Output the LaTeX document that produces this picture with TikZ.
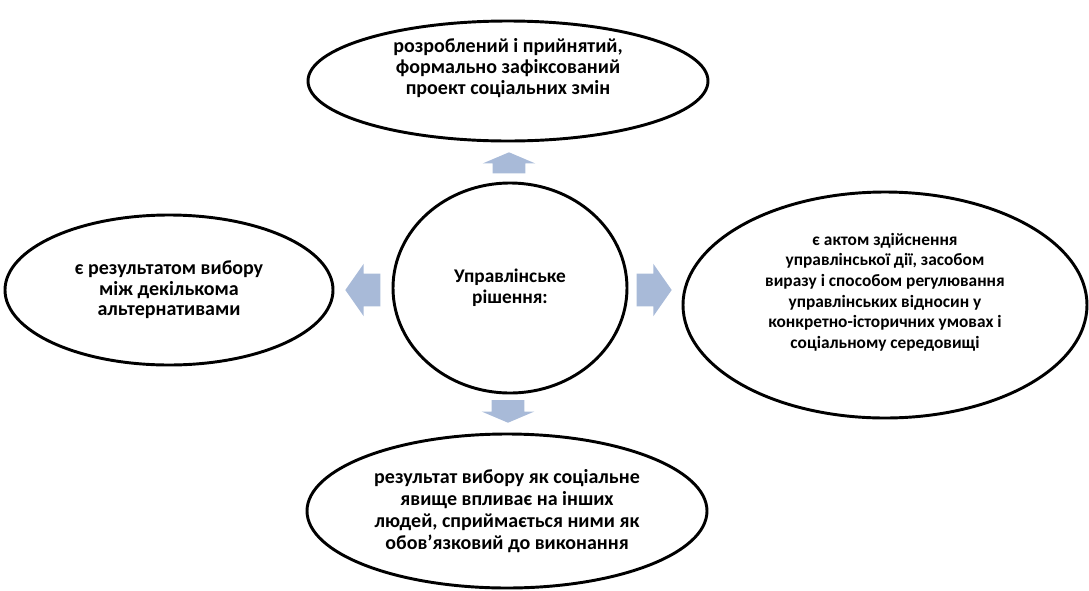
\documentclass[tikz,border=0pt]{standalone}
\usepackage{fontspec}
\setmainfont{Carlito}
\usepackage{tikz}
\usetikzlibrary{shapes.geometric}
\usetikzlibrary{shapes.arrows}
\definecolor{arrowblue}{RGB}{168,186,216}

\tikzset{
  bubble/.style={draw=black, line width=2.2pt, ellipse, inner sep=0pt},
  caption/.style={align=center, font=\bfseries\fontsize{#1}{15.5}\selectfont},
  caption/.default=14,
  blockarrow/.style={single arrow, fill=arrowblue, draw=none, inner xsep=0pt,
                     inner ysep=12pt, single arrow head extend=7.5pt, anchor=tip}
}

\begin{document}
\begin{tikzpicture}[x=0.75pt, y=-0.75pt]
  \useasboundingbox (0,0) rectangle (1089,590);

  \node[bubble, caption=14.5, minimum width=175.5pt, minimum height=157.5pt] (decision) at (510,288) {Управлінське\\ рішення:};

  \node[bubble, minimum width=300pt, minimum height=90pt] (project) at (508,81) {};
  \node[caption=15] (projecttext) at (508,68) {розроблений і прийнятий,\\ формально зафіксований\\ проект соціальних змін};

  \node[bubble, caption=15, minimum width=246pt, minimum height=112.5pt] (choice) at (169,290) {є результатом вибору\\ між декількома\\ альтернативами};

  \node[bubble, minimum width=303pt, minimum height=169.5pt] (act) at (885,305) {};
  \node[caption=13] (acttext) at (885,292) {є актом здійснення\\ управлінської дії, засобом\\ виразу і способом регулювання\\ управлінських відносин у\\ конкретно-історичних умовах і\\ соціальному середовищі};

  \node[bubble, caption=15, font=\bfseries\fontsize{15}{16.5}\selectfont, minimum width=300pt, minimum height=115.5pt] (effect) at (507,511) {результат вибору як соціальне\\ явище впливає на інших\\ людей, сприймається ними як\\ обов’язковий до виконання};

  % block arrows around the centre
  \node[blockarrow, rotate=90, minimum height=15.75pt, single arrow tip angle=134] (toproject) at (509,152) {};
  \node[blockarrow, rotate=180, minimum height=26.25pt, single arrow tip angle=110] (tochoice) at (345,290) {};
  \node[blockarrow, minimum height=26.25pt, single arrow tip angle=110] (toact) at (672,290) {};
  \node[blockarrow, rotate=-90, minimum height=17pt, single arrow tip angle=134] (toeffect) at (508,423) {};
\end{tikzpicture}
\end{document}
